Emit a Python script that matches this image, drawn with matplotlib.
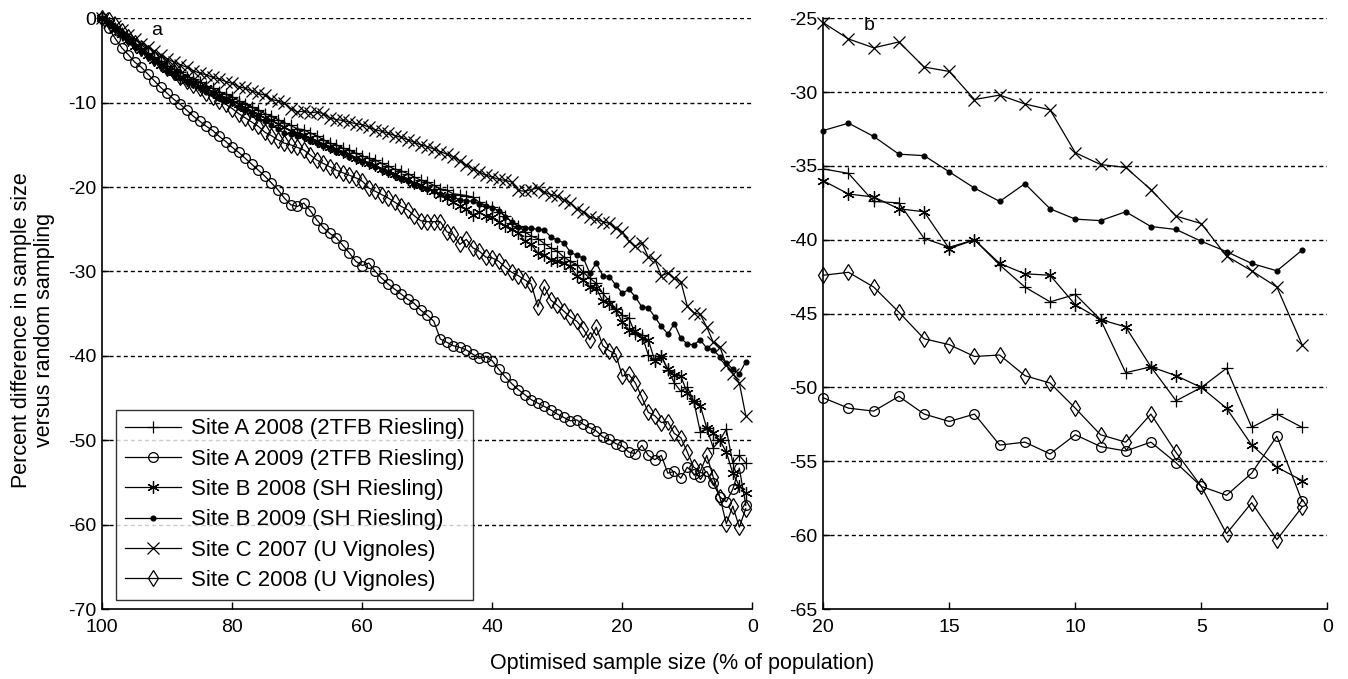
import numpy as np
import matplotlib
matplotlib.use("Agg")
import matplotlib.pyplot as plt

plt.rcParams['font.family'] = ['Liberation Sans', 'DejaVu Sans']

# Optimised sample size (% of population)
sample_pct = np.arange(100, 0, -1)

site_a_2008 = [0, -0.5, -1.1, -1.7, -2.4, -3.0, -3.5, -4.1, -4.6, -5.1,
               -5.6, -6.0, -6.4, -6.9, -7.2, -7.6, -8.0, -8.3, -8.7, -9.0,
               -9.3, -9.8, -10.2, -10.5, -10.9, -11.3, -11.6, -12.0, -12.4, -12.7,
               -13.1, -13.2, -13.6, -13.9, -14.4, -14.8, -15.0, -15.4, -15.6, -16.0,
               -16.3, -16.6, -16.8, -17.2, -17.5, -17.9, -18.1, -18.4, -18.8, -19.2,
               -19.4, -19.8, -20.2, -20.4, -20.8, -20.9, -21.0, -21.2, -21.8, -22.2,
               -22.4, -22.9, -23.4, -24.2, -24.6, -25.3, -25.8, -26.1, -26.7, -27.2,
               -27.6, -28.3, -28.8, -29.2, -30.1, -30.8, -31.4, -32.6, -33.5, -34.4,
               -35.2, -35.5, -37.4, -37.5, -39.9, -40.5, -40.0, -41.7, -43.2, -44.2,
               -43.7, -45.4, -49.0, -48.6, -50.9, -50.0, -48.7, -52.7, -51.8, -52.7]

site_a_2009 = [0, -1.2, -2.4, -3.5, -4.3, -5.2, -5.8, -6.6, -7.4, -8.2,
               -8.9, -9.6, -10.2, -10.9, -11.6, -12.2, -12.8, -13.3, -14.0, -14.6,
               -15.3, -15.9, -16.6, -17.3, -18.0, -18.7, -19.5, -20.3, -21.3, -22.1,
               -22.3, -21.9, -22.8, -23.9, -24.8, -25.5, -26.0, -26.9, -27.8, -28.8,
               -29.3, -29.0, -30.0, -30.8, -31.5, -32.1, -32.7, -33.3, -33.8, -34.6,
               -35.2, -35.9, -38.0, -38.4, -38.8, -39.0, -39.3, -39.8, -40.3, -40.1,
               -40.6, -41.6, -42.5, -43.3, -44.0, -44.6, -45.2, -45.6, -46.0, -46.4,
               -46.9, -47.3, -47.7, -47.6, -48.1, -48.5, -48.9, -49.6, -49.9, -50.4,
               -50.7, -51.4, -51.6, -50.6, -51.8, -52.3, -51.8, -53.9, -53.7, -54.5,
               -53.2, -54.0, -54.3, -53.7, -55.1, -56.7, -57.3, -55.8, -53.3, -57.7]

site_b_2008 = [0, -0.6, -1.3, -1.9, -2.6, -3.3, -3.8, -4.4, -4.9, -5.5,
               -6.0, -6.4, -6.9, -7.3, -7.6, -8.0, -8.3, -8.7, -9.1, -9.4,
               -9.7, -10.2, -10.6, -11.0, -11.4, -11.8, -12.1, -12.5, -12.9, -13.3,
               -13.6, -13.8, -14.2, -14.5, -14.9, -15.2, -15.5, -15.8, -16.1, -16.5,
               -16.8, -17.2, -17.4, -17.8, -18.1, -18.4, -18.8, -19.1, -19.5, -19.8,
               -20.1, -20.5, -20.9, -21.3, -21.8, -22.2, -22.6, -23.3, -23.0, -23.4,
               -23.6, -24.1, -24.6, -25.0, -25.4, -26.4, -26.8, -27.8, -28.0, -28.6,
               -28.8, -29.0, -29.4, -30.5, -31.0, -31.8, -32.0, -33.5, -33.8, -34.6,
               -36.0, -36.9, -37.1, -37.9, -38.1, -40.6, -40.0, -41.6, -42.3, -42.4,
               -44.4, -45.4, -45.9, -48.6, -49.2, -50.0, -51.4, -53.9, -55.4, -56.3]

site_b_2009 = [0, -0.6, -1.3, -2.0, -2.7, -3.4, -3.9, -4.5, -5.1, -5.7,
               -6.2, -6.7, -7.1, -7.5, -7.9, -8.3, -8.7, -9.0, -9.4, -9.7,
               -10.0, -10.5, -10.9, -11.3, -11.8, -12.2, -12.6, -13.1, -13.6, -13.7,
               -13.9, -14.1, -14.5, -14.8, -15.1, -15.5, -15.8, -16.0, -16.4, -16.7,
               -17.0, -17.3, -17.6, -18.0, -18.3, -18.7, -19.0, -19.3, -19.7, -20.0,
               -20.2, -20.5, -20.8, -21.0, -21.2, -21.5, -21.6, -21.7, -22.0, -22.2,
               -22.5, -22.8, -23.5, -24.1, -24.7, -24.8, -24.9, -25.0, -25.1, -25.9,
               -26.3, -26.6, -27.7, -28.1, -28.4, -30.2, -29.0, -30.5, -30.6, -31.6,
               -32.6, -32.1, -33.0, -34.2, -34.3, -35.4, -36.5, -37.4, -36.2, -37.9,
               -38.6, -38.7, -38.1, -39.1, -39.3, -40.1, -40.8, -41.6, -42.1, -40.7]

site_c_2007 = [0, -0.4, -0.9, -1.4, -2.0, -2.5, -3.0, -3.4, -3.9, -4.4,
               -4.8, -5.2, -5.5, -5.8, -6.2, -6.5, -6.7, -7.0, -7.2, -7.5,
               -7.7, -8.1, -8.3, -8.6, -8.9, -9.1, -9.6, -9.8, -10.0, -10.7,
               -11.1, -11.0, -11.2, -11.1, -11.3, -11.8, -12.0, -12.1, -12.3, -12.5,
               -12.6, -12.9, -13.2, -13.4, -13.6, -13.9, -14.1, -14.4, -14.7, -15.0,
               -15.2, -15.5, -15.8, -16.1, -16.4, -16.9, -17.4, -17.8, -18.2, -18.6,
               -18.8, -19.1, -19.2, -19.4, -20.4, -20.5, -20.3, -20.1, -20.6, -20.9,
               -21.1, -21.5, -21.9, -22.6, -22.9, -23.5, -23.8, -24.1, -24.3, -24.9,
               -25.3, -26.4, -27.0, -26.6, -28.3, -28.6, -30.5, -30.2, -30.8, -31.2,
               -34.1, -34.9, -35.1, -36.6, -38.4, -38.9, -41.1, -42.1, -43.2, -47.1]

site_c_2008 = [0, -0.2, -0.8, -1.5, -2.2, -2.9, -3.5, -4.1, -4.7, -5.3,
               -5.9, -6.4, -6.9, -7.4, -7.9, -8.3, -8.8, -9.3, -9.8, -10.2,
               -10.7, -11.3, -11.8, -12.3, -12.8, -13.5, -13.9, -14.4, -14.8, -15.0,
               -15.3, -15.6, -16.2, -16.8, -17.2, -17.6, -18.0, -18.3, -18.6, -18.9,
               -19.3, -20.1, -20.5, -20.9, -21.3, -21.8, -22.3, -22.7, -23.4, -24.0,
               -24.1, -24.1, -24.1, -25.3, -25.6, -26.8, -26.2, -27.2, -27.6, -28.3,
               -28.4, -28.8, -29.5, -30.1, -30.5, -31.0, -31.5, -34.2, -31.8, -33.4,
               -34.0, -34.7, -35.4, -35.9, -36.8, -38.1, -36.6, -38.8, -39.4, -39.8,
               -42.4, -42.2, -43.2, -44.9, -46.7, -47.1, -47.9, -47.8, -49.2, -49.7,
               -51.4, -53.2, -53.7, -51.8, -54.4, -56.7, -59.9, -57.8, -60.3, -58.1]

series_labels = ["Site A 2008 (2TFB Riesling)", "Site A 2009 (2TFB Riesling)",
                 "Site B 2008 (SH Riesling)", "Site B 2009 (SH Riesling)",
                 "Site C 2007 (U Vignoles)", "Site C 2008 (U Vignoles)"]
series_values = [site_a_2008, site_a_2009, site_b_2008, site_b_2009,
                 site_c_2007, site_c_2008]

a_xticks = [100, 80, 60, 40, 20, 0]
a_yticks = [0, -10, -20, -30, -40, -50, -60, -70]
b_xticks = [20, 15, 10, 5, 0]
b_yticks = [-25, -30, -35, -40, -45, -50, -55, -60, -65]

styles = [dict(marker='+', ms=9, mfc='none'),
          dict(marker='o', ms=7, mfc='none'),
          dict(marker=(6, 2, 0), ms=9, mfc='none'),
          dict(marker='.', ms=7, mfc='k'),
          dict(marker='x', ms=8, mfc='none'),
          dict(marker='d', ms=8, mfc='none')]

W, H = 1348, 679
fig = plt.figure(figsize=(W / 100, H / 100), dpi=100)

top_px, bot_px = 18.3, 609
ax_a = fig.add_axes([102.3 / W, 1 - bot_px / H, 650 / W, (bot_px - top_px) / H])
ax_b = fig.add_axes([823.3 / W, 1 - bot_px / H, 504 / W, (bot_px - top_px) / H])

dash = (0, (2.9, 2.2))
tick_fs = 14

for ax, xlim, ylim, xt, yt, sl in [
        (ax_a, (100, 0), (-70, 0), a_xticks, a_yticks, slice(None)),
        (ax_b, (20, 0), (-65, -25), b_xticks, b_yticks, slice(80, None))]:
    for vals, lab, st in zip(series_values, series_labels, styles):
        ax.plot(sample_pct[sl], np.array(vals)[sl], color='k', lw=0.9,
                mec='k', mew=0.9, label=lab, clip_on=False, zorder=3, **st)
    ax.set_xlim(*xlim)
    ax.set_ylim(*ylim)
    ax.set_xticks(xt)
    ax.set_yticks(yt)
    ax.set_xticklabels([str(v) for v in xt])
    ax.set_yticklabels([str(v) for v in yt])
    for y in yt[:-1]:
        ax.axhline(y, color='k', lw=1.0, ls=dash, zorder=1)
    ax.spines['top'].set_visible(False)
    ax.spines['right'].set_visible(False)
    ax.spines['left'].set_linewidth(1.2)
    ax.spines['bottom'].set_linewidth(1.2)
    ax.tick_params(direction='in', length=5, width=1.0, labelsize=tick_fs,
                   top=False, right=False)
    ax.tick_params(axis='x', pad=7)
    ax.tick_params(axis='y', pad=4.5)

ax_a.text(91.6, -1.4, 'a', fontsize=14, ha='center', va='center')
ax_b.text(18.2, -25.5, 'b', fontsize=14, ha='center', va='center')

leg = ax_a.legend(loc='lower left', bbox_to_anchor=(14 / 650, 9 / 590.7),
                  borderaxespad=0, fontsize=16, frameon=True, fancybox=False,
                  edgecolor='k', handlelength=2.5, labelspacing=0.42,
                  borderpad=0.4, handletextpad=0.45)
leg.get_frame().set_linewidth(1.0)
leg.set_zorder(5)

fig.text(682 / W, 1 - 663 / H, 'Optimised sample size (% of population)',
         fontsize=15.5, ha='center', va='center')
fig.text(33 / W, 1 - 330 / H,
         'Percent difference in sample size\nversus random sampling',
         fontsize=15.5, ha='center', va='center', rotation=90,
         multialignment='center', linespacing=1.1)

fig.savefig('out.png', dpi=100)
